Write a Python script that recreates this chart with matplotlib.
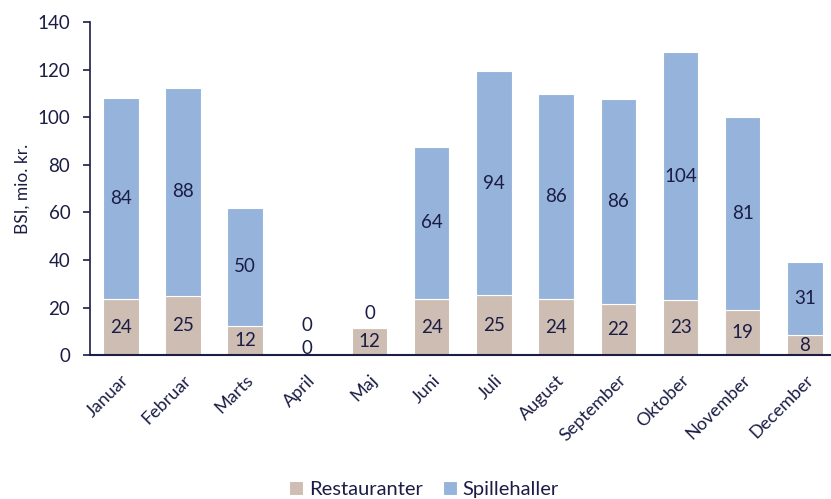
import matplotlib
matplotlib.use("Agg")
import matplotlib.pyplot as plt
import numpy as np

months = ["Januar", "Februar", "Marts", "April", "Maj", "Juni", "Juli", "August",
          "September", "Oktober", "November", "December"]
restauranter = [23.6, 24.8, 12.2, 0.0, 11.6, 23.6, 25.2, 23.6, 21.6, 23.2, 19.2, 8.4]
spillehaller = [84.4, 87.6, 49.8, 0.4, 0.0, 64.0, 94.2, 86.0, 86.0, 104.2, 80.8, 30.6]
lab_rest = [24, 25, 12, 0, 12, 24, 25, 24, 22, 23, 19, 8]
lab_spil = [84, 88, 50, 0, 0, 64, 94, 86, 86, 104, 81, 31]

c_rest = "#cdbdb2"
c_spil = "#95b3db"
c_text = "#1b1d45"

plt.rcParams['font.family'] = ['Lato', 'DejaVu Sans']

fig = plt.figure(figsize=(8.31, 4.99), dpi=100)
ax = fig.add_axes([0.108, 0.288, 0.892, 0.668])

x = np.arange(len(months))
w = 0.57
ax.bar(x, restauranter, w, color=c_rest, edgecolor="white", linewidth=0.8, label="Restauranter")
ax.bar(x, spillehaller, w, bottom=restauranter, color=c_spil, edgecolor="white", linewidth=0.8, label="Spillehaller")

fs = 13.5
for i in range(len(months)):
    r = restauranter[i]
    s = spillehaller[i]
    ry = 3 if r < 3 else r / 2
    ax.text(x[i], ry, str(lab_rest[i]), ha="center", va="center", fontsize=fs, color=c_text)
    if s < 3:
        sy = max(r + s + 6, ry + 9.5)
    else:
        sy = r + s / 2
    ax.text(x[i], sy, str(lab_spil[i]), ha="center", va="center", fontsize=fs, color=c_text)

ax.set_ylim(0, 140)
ax.set_yticks(np.arange(0, 141, 20))
ax.set_xlim(-0.5, 11.42)
ax.set_xticks(x)
ax.set_xticklabels(months, rotation=45, ha="right", rotation_mode="anchor", fontsize=13, color=c_text)
ax.tick_params(axis="y", labelsize=fs, colors=c_text, length=5, width=1.2, pad=9)
ax.tick_params(axis="x", length=0, pad=12)
ax.set_ylabel("BSI, mio. kr.", fontsize=12.5, color=c_text, labelpad=5)
for sp in ["top", "right"]:
    ax.spines[sp].set_visible(False)
ax.spines["left"].set_color(c_text)
ax.spines["left"].set_linewidth(1.2)
ax.spines["bottom"].set_color(c_text)
ax.spines["bottom"].set_linewidth(1.5)

fig.legend(loc="lower center", bbox_to_anchor=(0.51, -0.035), ncol=2, frameon=False,
           fontsize=14.5, handlelength=0.7, handleheight=0.7, handletextpad=0.3,
           columnspacing=1.0, labelcolor=c_text)

fig.savefig("out.png", dpi=100)
